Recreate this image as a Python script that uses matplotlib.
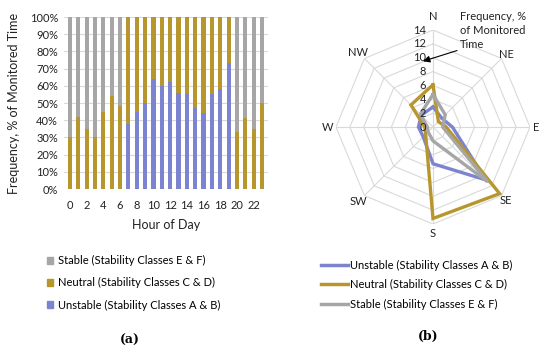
# Stability class frequency: (a) by hour of day, (b) by wind direction

import numpy as np
import matplotlib.pyplot as plt
from matplotlib.patches import Patch
from matplotlib.lines import Line2D
from matplotlib.ticker import PercentFormatter

plt.rcParams['font.family'] = ['Lato', 'DejaVu Sans']

# (a) share of monitored time per hour, %
hours = list(range(24))
unstable = [0, 0, 0, 0, 0, 0, 0,
            38, 45, 50, 64, 60, 62, 56, 55, 47, 44, 55, 58, 73,
            0, 0, 0, 0]
neutral = [30, 42, 35, 30, 45, 54, 48,
           62, 55, 50, 36, 40, 38, 44, 45, 53, 56, 45, 42, 27,
           33, 41, 35, 50]
stable = [70, 58, 65, 70, 55, 46, 52,
          0, 0, 0, 0, 0, 0, 0, 0, 0, 0, 0, 0, 0,
          67, 59, 65, 50]

# (b) frequency by wind direction, % of monitored time
directions = ['N', 'NE', 'E', 'SE', 'S', 'SW', 'W', 'NW']
rose_unstable = [2.9, 1.8, 2.8, 10.8, 5.3, 2.0, 2.1, 2.4]
rose_neutral = [6.1, 1.1, 1.9, 13.6, 13.2, 1.5, 1.2, 4.5]
rose_stable = [4.7, 2.5, 1.4, 11.2, 2.0, 1.0, 0.8, 2.6]
ring_values = [0, 2, 4, 6, 8, 10, 12, 14]

lab_unstable = 'Unstable (Stability Classes A & B)'
lab_neutral = 'Neutral (Stability Classes C & D)'
lab_stable = 'Stable (Stability Classes E & F)'

c_blue = '#7C84D2'
c_olive = '#B8962E'
c_gray = '#A6A6A6'
c_grid = '#D9D9D9'

fig = plt.figure(figsize=(5.5, 3.52), dpi=100)

# ---- (a) stacked bars
ax = fig.add_axes([0.1158, 0.463, 0.372, 0.4887])
bottom2 = np.array(unstable) + np.array(neutral)
ax.bar(hours, unstable, width=0.5, color=c_blue, zorder=2)
ax.bar(hours, neutral, width=0.5, bottom=unstable, color=c_olive, zorder=2)
ax.bar(hours, stable, width=0.5, bottom=bottom2, color=c_gray, zorder=2)
ax.set_xlim(-0.75, 23.75)
ax.set_ylim(0, 100)
ax.set_yticks(range(0, 101, 10))
ax.yaxis.set_major_formatter(PercentFormatter(decimals=0))
ax.set_xticks(range(0, 24, 2))
ax.grid(axis='y', color=c_grid, lw=0.8, zorder=0)
for s in ax.spines.values():
    s.set_visible(False)
ax.tick_params(length=0, labelsize=8, colors='#222222', pad=4)
ax.tick_params(axis='x', pad=8)
ax.set_xlabel('Hour of Day', fontsize=9, color='#222222', labelpad=6)
ax.set_ylabel('Frequency, % of Monitored Time', fontsize=9, color='#222222')
ax.yaxis.set_label_coords(-0.215, 0.5)

handles_a = [Patch(color=c_gray), Patch(color=c_olive), Patch(color=c_blue)]
fig.legend(handles_a, [lab_stable, lab_neutral, lab_unstable],
           loc='upper left', bbox_to_anchor=(0.085, 0.275), frameon=False,
           fontsize=8, handlelength=0.6, handleheight=0.6, handletextpad=0.4,
           labelspacing=1.0, borderaxespad=0, borderpad=0)
fig.text(0.236, 0.033, '(a)', fontsize=9, fontweight='bold',
         family='DejaVu Serif', ha='center', va='center')

# ---- (b) radar
angles = np.linspace(0, 2 * np.pi, len(directions), endpoint=False)
closed = np.append(angles, angles[0])

pax = fig.add_axes([0.6109, 0.3636, 0.3527, 0.5511], projection='polar')
pax.set_theta_zero_location('N')
pax.set_theta_direction(-1)
pax.set_ylim(0, 14)
pax.grid(False)
pax.spines['polar'].set_visible(False)
pax.set_xticks([])
pax.set_yticks([])
pax.patch.set_visible(False)

for r in ring_values[1:]:
    pax.plot(closed, [r] * len(closed), color=c_grid, lw=0.8, zorder=1)
for a in angles:
    pax.plot([a, a], [0, 14], color=c_grid, lw=0.8, zorder=1)

for vals, col in [(rose_unstable, c_blue), (rose_neutral, c_olive),
                  (rose_stable, c_gray)]:
    pax.plot(closed, vals + vals[:1], color=col, lw=2.4, zorder=3,
             solid_joinstyle='miter')

# label distance from centre for each compass point
label_r = {'N': 15.9, 'NE': 14.9, 'E': 14.9, 'SE': 14.9,
           'S': 15.3, 'SW': 15.2, 'W': 15.2, 'NW': 15.3}
for a, d in zip(angles, directions):
    pax.text(a, label_r[d], d, fontsize=8, ha='center', va='center',
             color='#222222')

for r in ring_values:
    pax.annotate(str(r), xy=(0, r), xytext=(-5, 0), textcoords='offset points',
                 ha='right', va='center', fontsize=8, color='#222222')

pax.annotate('Frequency, %\nof Monitored\nTime', xy=(2 * np.pi - 0.15, 9.6),
             xytext=(0.836, 0.968), textcoords='figure fraction',
             ha='left', va='top', fontsize=8, linespacing=1.3, color='#222222',
             arrowprops=dict(arrowstyle='-|>', color='black', lw=0.8,
                             mutation_scale=10, shrinkA=0, shrinkB=0,
                             relpos=(0.0, 0.0)))

handles_b = [Line2D([], [], color=c_blue, lw=2.5),
             Line2D([], [], color=c_olive, lw=2.5),
             Line2D([], [], color=c_gray, lw=2.5)]
fig.legend(handles_b, [lab_unstable, lab_neutral, lab_stable],
           loc='upper left', bbox_to_anchor=(0.583, 0.262), frameon=False,
           fontsize=8, handlelength=2.5, handletextpad=0.15,
           labelspacing=0.75, borderaxespad=0, borderpad=0)
fig.text(0.778, 0.043, '(b)', fontsize=9, fontweight='bold',
         family='DejaVu Serif', ha='center', va='center')

fig.savefig('out.png', dpi=100)
